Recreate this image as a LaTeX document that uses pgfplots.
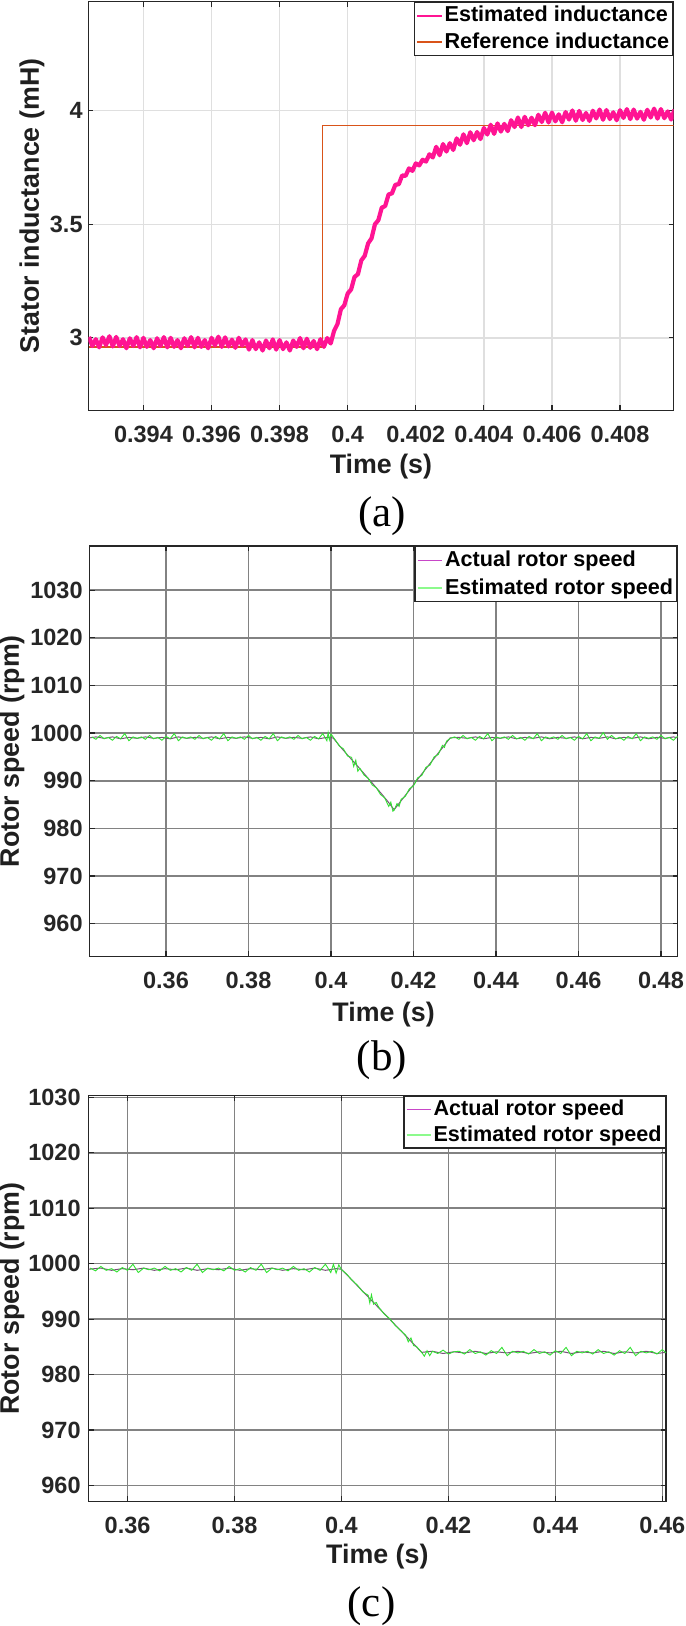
\documentclass[border=0pt]{standalone}
\usepackage{pgfplots}
\pgfplotsset{compat=1.18}
\usepackage{fontspec}
\setmainfont{Liberation Sans}
\newfontfamily\capserif{Liberation Serif}
\definecolor{axgray}{RGB}{38,38,38}
\definecolor{gridlight}{RGB}{223,223,223}
\definecolor{griddark}{RGB}{130,130,130}
\definecolor{estpink}{RGB}{255,20,147}
\definecolor{reforange}{RGB}{217,83,25}
\definecolor{actmag}{RGB}{200,70,200}
\definecolor{actline}{RGB}{120,80,120}
\definecolor{estgreen}{RGB}{50,225,50}
\definecolor{leggreen}{RGB}{140,250,140}
\newcommand\tickfont{\fontsize{11.75pt}{13pt}\selectfont\bfseries}
\newcommand\labfont{\fontsize{13.4pt}{15pt}\selectfont\bfseries}
\newcommand\legfont{\fontsize{10.8pt}{12pt}\selectfont\bfseries}
\newcommand\capfont{\capserif\fontsize{21.5pt}{24pt}\selectfont}
\pgfplotsset{
  mystyle/.style={
    scale only axis, anchor=south west,
    axis line style={line width=0.7pt, draw=axgray},
    tick style={line width=0.6pt, draw=axgray},
    major tick length=2.5pt,
    grid=major,
    tick label style={font=\tickfont, text=axgray},
    every axis x label/.style={anchor=center, font=\labfont, text=black!88},
    every axis y label/.style={anchor=center, rotate=90, font=\labfont, text=black!88},
    xticklabel style={anchor=center},
    yticklabel style={anchor=east, inner sep=0pt},
    legend cell align=left,
    legend style={at={(1,1)}, anchor=north east, draw=axgray, line width=0.7pt,
      font=\legfont, inner xsep=1pt, inner ysep=0pt, row sep=0pt,
      nodes={inner xsep=0.85pt, inner ysep=1.2pt, text height=8.6pt, text depth=2.3pt}},
  }
}
\begin{document}
\begin{tikzpicture}
\useasboundingbox (0,0) rectangle (342.5pt,813pt);
% ---------------- (a) ----------------
\begin{axis}[mystyle,
  at={(44.15pt,607.75pt)}, width=292.6pt, height=204.4pt,
  xmin=0.39238, xmax=0.40957, ymin=2.68, ymax=4.48,
  xtick={0.394,0.396,0.398,0.4,0.402,0.404,0.406,0.408},
  xticklabels={0.394,0.396,0.398,0.4,0.402,0.404,0.406,0.408},
  ytick={3,3.5,4}, yticklabels={3,3.5,4},
  xticklabel style={yshift=-12.1pt},
  yticklabel style={xshift=-2.65pt},
  major grid style={line width=0.7pt, draw=gridlight},
  xlabel={Time (s)}, ylabel={Stator inductance (mH)},
  xlabel style={at={(axis description cs:0.5,-0.1382)}},
  ylabel style={at={(axis description cs:-0.0962,0.5)}},
  reverse legend,
]
\addplot[reforange, line width=0.65pt,
  legend image code/.code={\draw[reforange, line width=1pt] (0pt,0pt) -- (12.3pt,0pt);}]
  coordinates {(0.3924,2.96) (0.39926,2.96) (0.39926,3.934) (0.4096,3.934)};
\addlegendentry{Reference inductance}
\addplot[estpink, line width=2.1pt, line join=round,
  legend image code/.code={\draw[estpink, line width=1pt] (0pt,0pt) -- (12.3pt,0pt);}]
  coordinates {
(0.3924,3.004) (0.3925,2.964) (0.3926,2.994) (0.3927,2.958) (0.3928,3.002) (0.3929,2.968)
(0.3930,3.007) (0.3931,2.962) (0.3932,3.004) (0.3933,2.964) (0.3934,2.994) (0.3935,2.954)
(0.3936,2.998) (0.3937,2.964) (0.3938,3.003) (0.3939,2.958) (0.3940,3.000) (0.3941,2.960)
(0.3942,2.990) (0.3943,2.954) (0.3944,2.998) (0.3945,2.964) (0.3946,3.003) (0.3947,2.958)
(0.3948,3.000) (0.3949,2.960) (0.3950,2.990) (0.3951,2.954) (0.3952,2.998) (0.3953,2.964)
(0.3954,3.003) (0.3955,2.958) (0.3956,3.000) (0.3957,2.960) (0.3958,2.990) (0.3959,2.954)
(0.3960,3.000) (0.3961,2.966) (0.3962,3.005) (0.3963,2.960) (0.3964,3.002) (0.3965,2.962)
(0.3966,2.992) (0.3967,2.956) (0.3968,3.000) (0.3969,2.966) (0.3970,2.993) (0.3971,2.948)
(0.3972,2.990) (0.3973,2.950) (0.3974,2.980) (0.3975,2.944) (0.3976,2.988) (0.3977,2.954)
(0.3978,2.993) (0.3979,2.948) (0.3980,2.990) (0.3981,2.950) (0.3982,2.980) (0.3983,2.944)
(0.3984,2.988) (0.3985,2.960) (0.3986,2.999) (0.3987,2.954) (0.3988,2.996) (0.3989,2.956)
(0.3990,2.986) (0.3991,2.950) (0.3992,2.994) (0.3993,2.960) (0.3994,2.999) (0.3995,2.975)
(0.3996,3.031) (0.3997,3.061) (0.3998,3.126) (0.3999,3.143) (0.4000,3.195) (0.4001,3.213)
(0.4002,3.268) (0.4003,3.280) (0.4004,3.341) (0.4005,3.361) (0.4006,3.416) (0.4007,3.438)
(0.4008,3.500) (0.4009,3.518) (0.4010,3.573) (0.4011,3.580) (0.4012,3.631) (0.4013,3.636)
(0.4014,3.674) (0.4015,3.676) (0.4016,3.715) (0.4017,3.713) (0.4018,3.746) (0.4019,3.735)
(0.4020,3.768) (0.4021,3.759) (0.4022,3.784) (0.4023,3.776) (0.4024,3.808) (0.4025,3.794)
(0.4026,3.841) (0.4027,3.804) (0.4028,3.853) (0.4029,3.820) (0.4030,3.857) (0.4031,3.827)
(0.4032,3.878) (0.4033,3.850) (0.4034,3.896) (0.4035,3.857) (0.4036,3.905) (0.4037,3.870)
(0.4038,3.906) (0.4039,3.875) (0.4040,3.924) (0.4041,3.895) (0.4042,3.938) (0.4043,3.898)
(0.4044,3.944) (0.4045,3.908) (0.4046,3.942) (0.4047,3.910) (0.4048,3.958) (0.4049,3.928)
(0.4050,3.970) (0.4051,3.928) (0.4052,3.973) (0.4053,3.936) (0.4054,3.969) (0.4055,3.936)
(0.4056,3.982) (0.4057,3.950) (0.4058,3.991) (0.4059,3.948) (0.4060,3.992) (0.4061,3.953)
(0.4062,3.984) (0.4063,3.949) (0.4064,3.994) (0.4065,3.961) (0.4066,4.001) (0.4067,3.956)
(0.4068,3.999) (0.4069,3.959) (0.4070,3.990) (0.4071,3.955) (0.4072,4.000) (0.4073,3.966)
(0.4074,4.005) (0.4075,3.960) (0.4076,4.003) (0.4077,3.963) (0.4078,3.993) (0.4079,3.958)
(0.4080,4.002) (0.4081,3.968) (0.4082,4.007) (0.4083,3.963) (0.4084,4.005) (0.4085,3.965)
(0.4086,3.995) (0.4087,3.960) (0.4088,4.004) (0.4089,3.970) (0.4090,4.009) (0.4091,3.965)
(0.4092,4.007) (0.4093,3.967) (0.4094,3.997) (0.4095,3.961) (0.4096,4.005)
  };
\addlegendentry{Estimated inductance}
\end{axis}
% ---------------- (b) ----------------
\begin{axis}[mystyle,
  at={(44.85pt,334.8pt)}, width=293.9pt, height=205.2pt,
  xmin=0.3415, xmax=0.4840, ymin=953.1, ymax=1039.3,
  xtick={0.36,0.38,0.4,0.42,0.44,0.46,0.48},
  xticklabels={0.36,0.38,0.4,0.42,0.44,0.46,0.48},
  ytick={960,970,980,990,1000,1010,1020,1030},
  yticklabels={960,970,980,990,1000,1010,1020,1030},
  xticklabel style={yshift=-12.15pt},
  yticklabel style={xshift=-3.35pt},
  major grid style={line width=0.8pt, draw=griddark},
  xlabel={Time (s)}, ylabel={Rotor speed (rpm)},
  xlabel style={at={(axis description cs:0.5,-0.1418)}},
  ylabel style={at={(axis description cs:-0.1322,0.5)}},
  legend style={nodes={inner ysep=1.4pt}},
]
\addplot[actline, line width=0.5pt,
  legend image code/.code={\draw[actmag, line width=0.5pt] (0pt,0pt) -- (12.3pt,0pt);}]
  coordinates {
(0.3415,999.0) (0.343,999.2) (0.345,998.9) (0.347,999.2) (0.349,998.8) (0.351,999.1)
(0.353,998.9) (0.355,999.2) (0.357,998.9) (0.359,999.1) (0.361,998.8) (0.363,999.2)
(0.365,998.9) (0.367,999.1) (0.369,998.9) (0.371,999.2) (0.373,998.8) (0.375,999.1)
(0.377,998.9) (0.379,999.2) (0.381,998.9) (0.383,999.1) (0.385,998.8) (0.387,999.2)
(0.389,998.9) (0.391,999.1) (0.393,998.9) (0.395,999.2) (0.397,998.8) (0.399,999.1)
(0.4005,999.0) (0.402,997.4) (0.404,995.4) (0.406,993.5) (0.408,991.5) (0.410,989.5)
(0.412,987.5) (0.414,985.4) (0.4153,983.9) (0.417,985.8) (0.419,988.0) (0.421,990.3)
(0.423,992.5) (0.425,994.7) (0.427,996.9) (0.4289,999.0) (0.431,999.1) (0.433,998.9)
(0.435,999.2) (0.437,998.8) (0.439,999.1) (0.441,998.9) (0.443,999.2) (0.445,998.8)
(0.447,999.1) (0.449,998.9) (0.451,999.2) (0.453,998.8) (0.455,999.1) (0.457,998.9)
(0.459,999.2) (0.461,998.8) (0.463,999.1) (0.465,998.9) (0.467,999.2) (0.469,998.8)
(0.471,999.1) (0.473,998.9) (0.475,999.2) (0.477,998.8) (0.479,999.1) (0.481,998.9)
(0.483,999.2) (0.484,999.0)
  };
\addlegendentry{Actual rotor speed}
\addplot[estgreen, line width=0.45pt,
  legend image code/.code={\draw[leggreen, line width=0.9pt] (0pt,0pt) -- (12.3pt,0pt);}]
  coordinates {
(0.342,999.2) (0.343,998.7) (0.344,999.5) (0.345,998.8) (0.346,999.1) (0.347,998.5)
(0.348,999.3) (0.349,998.8) (0.350,999.9) (0.351,998.4) (0.352,999.2) (0.353,998.9)
(0.354,999.2) (0.355,998.7) (0.356,999.5) (0.357,998.8) (0.358,999.1) (0.359,998.5)
(0.360,999.3) (0.361,998.8) (0.362,999.9) (0.363,998.4) (0.364,999.2) (0.365,998.9)
(0.366,999.2) (0.367,998.7) (0.368,999.5) (0.369,998.8) (0.370,999.1) (0.371,998.5)
(0.372,999.3) (0.373,998.8) (0.374,999.9) (0.375,998.4) (0.376,999.2) (0.377,998.9)
(0.378,999.2) (0.379,998.7) (0.380,999.5) (0.381,998.8) (0.382,999.1) (0.383,998.5)
(0.384,999.3) (0.385,998.8) (0.386,999.9) (0.387,998.4) (0.388,999.2) (0.389,998.9)
(0.390,999.2) (0.391,998.7) (0.392,999.5) (0.393,998.8) (0.394,999.1) (0.395,998.5)
(0.396,999.3) (0.397,998.8) (0.398,999.9) (0.399,998.4) (0.3993,1000.1) (0.3996,998.6)
(0.400,999.8) (0.401,998.6) (0.402,997.3) (0.403,996.7) (0.404,995.2) (0.405,994.9)
(0.4055,993.0) (0.406,994.3) (0.4065,992.0) (0.407,992.6) (0.408,991.2) (0.409,990.5)
(0.410,989.1) (0.411,988.5) (0.412,987.1) (0.413,986.4) (0.414,984.6) (0.4145,985.5)
(0.415,983.6) (0.4153,983.8) (0.416,985.2) (0.4165,984.6) (0.417,986.1) (0.418,986.7)
(0.419,988.3) (0.420,988.9) (0.421,990.6) (0.422,991.1) (0.423,992.8) (0.424,993.3)
(0.425,995.0) (0.426,995.5) (0.427,997.4) (0.4275,997.0) (0.428,998.3) (0.4289,998.9)
(0.430,999.2) (0.431,998.7) (0.432,999.5) (0.433,998.8) (0.434,999.1) (0.435,998.5)
(0.436,999.3) (0.437,998.8) (0.438,999.9) (0.439,998.4) (0.440,999.2) (0.441,998.9)
(0.442,999.2) (0.443,998.7) (0.444,999.5) (0.445,998.8) (0.446,999.1) (0.447,998.5)
(0.448,999.3) (0.449,998.8) (0.450,999.9) (0.451,998.4) (0.452,999.2) (0.453,998.9)
(0.454,999.2) (0.455,998.7) (0.456,999.5) (0.457,998.8) (0.458,999.1) (0.459,998.5)
(0.460,999.3) (0.461,998.8) (0.462,999.9) (0.463,998.4) (0.464,999.2) (0.465,998.9)
(0.466,1000.1) (0.467,998.7) (0.468,999.5) (0.469,998.8) (0.470,999.1) (0.471,998.5)
(0.472,999.3) (0.473,998.8) (0.474,999.9) (0.475,998.4) (0.476,999.2) (0.477,998.9)
(0.478,999.2) (0.479,998.7) (0.480,999.5) (0.481,998.8) (0.482,999.1) (0.483,998.5)
(0.484,999.3)
  };
\addlegendentry{Estimated rotor speed}
\end{axis}
% ---------------- (c) ----------------
\begin{axis}[mystyle,
  at={(44.35pt,62.25pt)}, width=288.65pt, height=202.9pt,
  xmin=0.35273, xmax=0.46069, ymin=957.1, ymax=1030.3,
  xtick={0.36,0.38,0.4,0.42,0.44,0.46},
  xticklabels={0.36,0.38,0.4,0.42,0.44,0.46},
  ytick={960,970,980,990,1000,1010,1020,1030},
  yticklabels={960,970,980,990,1000,1010,1020,1030},
  xticklabel style={yshift=-11.75pt},
  yticklabel style={xshift=-3.85pt},
  major grid style={line width=0.8pt, draw=griddark},
  xlabel={Time (s)}, ylabel={Rotor speed (rpm)},
  xlabel style={at={(axis description cs:0.5,-0.1368)}},
  ylabel style={at={(axis description cs:-0.1329,0.5)}},
  legend style={nodes={inner ysep=1.0pt}},
]
\addplot[actline, line width=0.5pt,
  legend image code/.code={\draw[actmag, line width=0.5pt] (0pt,0pt) -- (12.3pt,0pt);}]
  coordinates {
(0.3527,999.0) (0.355,999.2) (0.357,998.8) (0.359,999.1) (0.361,998.9) (0.363,999.2)
(0.365,998.8) (0.367,999.1) (0.369,998.9) (0.371,999.2) (0.373,998.8) (0.375,999.1)
(0.377,998.9) (0.379,999.2) (0.381,998.8) (0.383,999.1) (0.385,998.9) (0.387,999.2)
(0.389,998.8) (0.391,999.1) (0.393,998.9) (0.395,999.2) (0.397,998.8) (0.399,999.1)
(0.400,999.0) (0.415,984.0) (0.417,984.2) (0.419,983.8) (0.421,984.1) (0.423,983.9)
(0.425,984.2) (0.427,983.8) (0.429,984.1) (0.431,983.9) (0.433,984.2) (0.435,983.8)
(0.437,984.1) (0.439,983.9) (0.441,984.2) (0.443,983.8) (0.445,984.1) (0.447,983.9)
(0.449,984.2) (0.451,983.8) (0.453,984.1) (0.455,983.9) (0.457,984.2) (0.459,983.8)
(0.4607,984.0)
  };
\addlegendentry{Actual rotor speed}
\addplot[estgreen, line width=0.45pt,
  legend image code/.code={\draw[leggreen, line width=0.6pt] (0pt,0pt) -- (12.3pt,0pt);}]
  coordinates {
(0.353,999.2) (0.354,998.7) (0.355,999.5) (0.356,998.8) (0.357,999.1) (0.358,998.5)
(0.359,999.3) (0.360,998.8) (0.361,999.9) (0.362,998.4) (0.363,999.2) (0.364,998.9)
(0.365,999.2) (0.366,998.7) (0.367,999.5) (0.368,998.8) (0.369,999.1) (0.370,998.5)
(0.371,999.3) (0.372,998.8) (0.373,999.9) (0.374,998.4) (0.375,999.2) (0.376,998.9)
(0.377,999.2) (0.378,998.7) (0.379,999.5) (0.380,998.8) (0.381,999.1) (0.382,998.5)
(0.383,999.3) (0.384,998.8) (0.385,999.9) (0.386,998.4) (0.387,999.2) (0.388,998.9)
(0.389,999.2) (0.390,998.7) (0.391,999.5) (0.392,998.8) (0.393,999.1) (0.394,998.5)
(0.395,999.3) (0.396,998.8) (0.397,999.9) (0.398,998.4) (0.3985,999.9) (0.399,998.3)
(0.3995,999.8) (0.400,998.9) (0.401,998.1) (0.402,997.0) (0.403,996.1) (0.404,994.9)
(0.405,994.3) (0.4053,992.9) (0.4056,994.4) (0.406,992.7) (0.4065,993.0) (0.407,992.1)
(0.408,990.9) (0.409,990.1) (0.410,988.9) (0.411,988.0) (0.412,987.1) (0.4125,985.9)
(0.413,986.6) (0.4135,985.2) (0.414,985.1) (0.415,984.0) (0.4155,983.3) (0.416,984.3)
(0.4165,983.4) (0.417,984.2) (0.418,983.8) (0.419,984.4) (0.420,983.7) (0.421,984.1)
(0.422,984.2) (0.423,983.7) (0.424,984.5) (0.425,983.8) (0.426,984.1) (0.427,983.5)
(0.428,984.3) (0.429,983.8) (0.430,984.9) (0.431,983.4) (0.432,984.2) (0.433,983.9)
(0.434,984.2) (0.435,983.7) (0.436,984.5) (0.437,983.8) (0.438,984.1) (0.439,983.5)
(0.440,984.3) (0.441,983.8) (0.442,984.9) (0.443,983.4) (0.444,984.2) (0.445,983.9)
(0.446,984.2) (0.447,983.7) (0.448,984.5) (0.449,983.8) (0.450,984.1) (0.451,983.5)
(0.452,984.3) (0.453,983.8) (0.454,984.9) (0.455,983.4) (0.456,984.2) (0.457,983.9)
(0.458,984.2) (0.459,983.7) (0.460,984.5) (0.4607,983.9)
  };
\addlegendentry{Estimated rotor speed}
\end{axis}
% captions
\node[font=\capfont, inner sep=0pt] at (191pt,554.75pt) {(a)};
\node[font=\capfont, inner sep=0pt] at (191pt,283pt) {(b)};
\node[font=\capfont, inner sep=0pt] at (185.75pt,9.75pt) {(c)};
\end{tikzpicture}
\end{document}
